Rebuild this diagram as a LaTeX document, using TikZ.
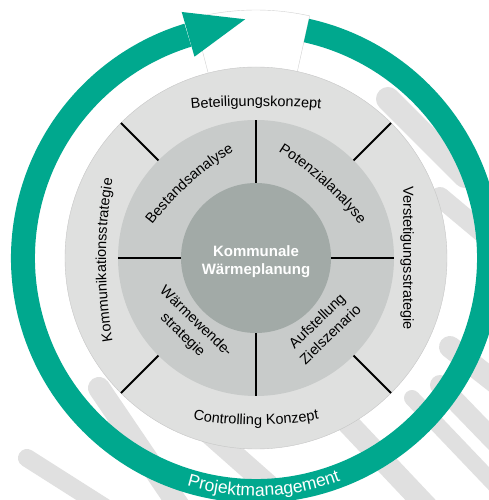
\documentclass[tikz,border=0pt]{standalone}
\usepackage{fontspec}
\setmainfont{Liberation Sans}
\usepackage{tikz}
\usetikzlibrary{decorations.text}

\definecolor{pmgreen}{HTML}{00A88E}
\definecolor{ringouter}{HTML}{DFE0DF}
\definecolor{ringmid}{HTML}{C8CBCA}
\definecolor{ringinner}{HTML}{A2AAA7}
\definecolor{stripegray}{HTML}{E0E0E0}
\newcommand{\ringfont}{\fontsize{14.5}{19}\selectfont}
\newcommand{\pmfont}{\fontsize{17.5}{20}\selectfont}

\begin{document}
\begin{tikzpicture}[x=1pt,y=1pt,
    stripe/.style={line width=#1,color=stripegray,line cap=round},
    divider/.style={line width=1.8pt,black},
    segtext/.style={font=\ringfont,align=center,inner sep=0pt},
    centertext/.style={font=\bfseries\fontsize{15}{18}\selectfont,text=white,align=center,inner sep=0pt},
    arctext/.style={decorate,decoration={text along path,text align=center,text={|\ringfont|#1}}}]
    \fill[white] (-256,-242) rectangle (232,258);
    \useasboundingbox (-256,-242) rectangle (232,258);

    \draw[stripe=24] (132,159) -- (209,82);
    \draw[stripe=20] (184,61) -- (264,-6);
    \draw[stripe=22] (194,-89) -- (249,-132);
    \draw[stripe=20] (184,-127) -- (244,-189);
    \draw[stripe=16] (156,-140) -- (239,-227);
    \draw[stripe=22] (89,-162) -- (174,-252);
    \draw[stripe=22] (-48,-174) -- (29,-242);
    \draw[stripe=22] (-157,-130) -- (-71,-257);
    \draw[stripe=18] (-229,-200) -- (-144,-254);

    \filldraw[fill=white,draw=gray!35,line width=0.4pt] (77.5:191) -- (77.5:248)
        arc[start angle=77.5,end angle=104.5,radius=248] -- (104.5:191);

    \filldraw[fill=ringouter,draw=gray!45,line width=0.4pt] (0,0) circle[radius=191];
    \fill[ringmid] (0,0) circle[radius=138];
    \fill[ringinner] (0,0) circle[radius=75];
    \foreach \a in {0,90,180,270}
        \draw[divider] (\a:75) -- (\a:138);
    \foreach \a in {45,135,225,315}
        \draw[divider] (\a:138) -- (\a:191);

    \node[centertext] (kwp) at (0,-3.5) {Kommunale\\Wärmeplanung};
    \node[segtext,rotate=-44] (wws) at (-67,-70.5) {Wärmewende-\\strategie};
    \node[segtext,rotate=44] (azs) at (67.5,-69.5) {Aufstellung\\Zielszenario};
    \node[segtext,rotate=-90] (vst) at (151,0) {Verstetigungsstrategie};

    \path[arctext=Bestandsanalyse,shift={(141.2,-156.8)}] (144:310) arc[start angle=144,end angle=120,radius=310];
    \path[arctext=Potenzialanalyse,shift={(-141.2,-156.8)}] (60:310) arc[start angle=60,end angle=36,radius=310];
    \path[arctext=Beteiligungskonzept,shift={(0,-574)}] (97:726) arc[start angle=97,end angle=83,radius=726];
    \path[arctext=Controlling Konzept,shift={(0,183)}] (258:350) arc[start angle=258,end angle=282,radius=350];
    \path[arctext=Kommunikationsstrategie,shift={(340,-2)}] (191:490) arc[start angle=191,end angle=169,radius=490];

    \fill[pmgreen] (77.5:245) arc[start angle=77.5,end angle=-253,radius=245]
        -- (107:221) arc[start angle=107,end angle=437.5,radius=221] -- cycle;
    \fill[pmgreen] (106.8:257) -- (92.6:239) -- (107:210.5) -- cycle;
    \path[decorate,decoration={text along path,text align=center,text={|\pmfont\color{white}|Projektmanagement}}]
        (250:238) arc[start angle=250,end angle=294,radius=238];
\end{tikzpicture}
\end{document}
